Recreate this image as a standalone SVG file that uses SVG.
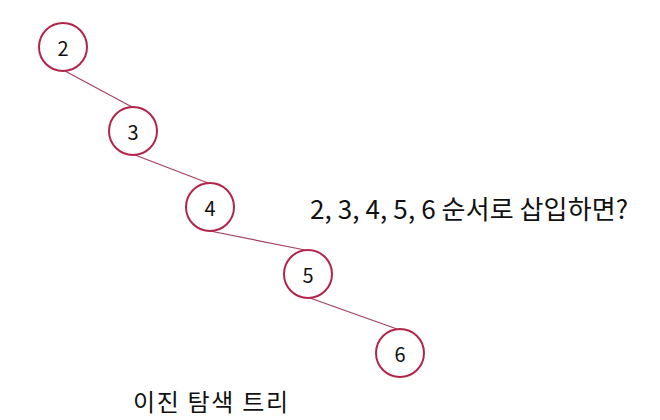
<svg xmlns="http://www.w3.org/2000/svg" width="660" height="420" viewBox="0 0 660 420">
<style>
.node circle{fill:#fff;stroke:#b3244b;stroke-width:2}
.node text{font-family:"Noto Sans CJK KR","Noto Sans",sans-serif;font-size:20px;font-weight:400;fill:#111;text-anchor:middle;dominant-baseline:central}
.edge{stroke:#a3405e;stroke-width:1.2;fill:none}
.label{font-family:"Noto Sans CJK KR","Noto Sans",sans-serif;font-weight:400;fill:#111}
</style>
<rect width="660" height="420" fill="#fff"/>
<g id="connectors">
<line class="edge" x1="65" y1="71" x2="132" y2="107"/>
<line class="edge" x1="135" y1="155" x2="208" y2="183"/>
<line class="edge" x1="210" y1="231" x2="305" y2="250"/>
<line class="edge" x1="310" y1="298" x2="397" y2="329"/>
</g>
<g id="node2" class="node"><circle cx="63" cy="47" r="24"/><text x="63" y="47">2</text></g>
<g id="node3" class="node"><circle cx="133" cy="131" r="24"/><text x="133" y="131">3</text></g>
<g id="node4" class="node"><circle cx="210" cy="207" r="24"/><text x="210" y="207">4</text></g>
<g id="node5" class="node"><circle cx="308" cy="274" r="24"/><text x="308" y="274">5</text></g>
<g id="node6" class="node"><circle cx="400" cy="353" r="24"/><text x="400" y="353">6</text></g>
<text class="label" x="310" y="219" font-size="26" textLength="318">2, 3, 4, 5, 6 순서로 삽입하면?</text>
<text class="label" x="133" y="411" font-size="24" textLength="155">이진 탐색 트리</text>
</svg>
